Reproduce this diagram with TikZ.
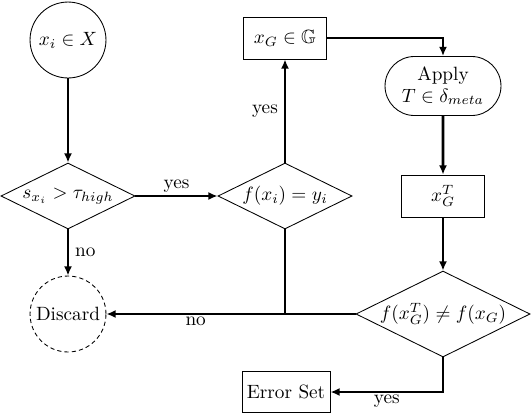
\documentclass[tikz,border=0pt]{standalone}
\usepackage{amssymb}
\usetikzlibrary{shapes.geometric,shapes.misc,arrows.meta}
\begin{document}
\begin{tikzpicture}[x=0.52pt,y=-0.52pt,
  base/.style={draw, line width=0.45pt, inner sep=0pt, font=\normalsize},
  term/.style={base, circle, minimum size=39.5pt},
  decision/.style={base, diamond, aspect=2},
  procbox/.style={base, rectangle, minimum width=43.2pt, minimum height=21.8pt},
  roundbox/.style={base, rounded rectangle, minimum width=60.3pt, minimum height=30.7pt},
  flow/.style={line width=1.45pt, -{Latex[length=4.8pt,width=4.2pt]}},
  link/.style={line width=1.2pt},
  lbl/.style={inner sep=1pt, font=\normalsize}]
\useasboundingbox (0,0) rectangle (532,414);
\node[term] (xi) at (68,40) {$x_i \in X$};
\node[decision, minimum width=69.7pt, minimum height=34.3pt] (d1) at (68,196) {$s_{x_i} > \tau_{high}$};
\node[decision, minimum width=69.7pt, minimum height=34.3pt] (d2) at (285,196) {$f(x_i) = y_i$};
\node[procbox] (xg) at (285,38) {$x_G \in \mathbb{G}$};
\node[roundbox, align=center] (apply) at (443,86) {Apply\\[-1pt]$T \in \delta_{meta}$};
\node[procbox] (xgt) at (443,196) {$x_G^T$};
\node[decision, minimum width=90.5pt, minimum height=44.7pt] (d3) at (443,314) {$f(x_G^T) \neq f(x_G)$};
\node[term, dash pattern=on 2.2pt off 1.6pt] (discard) at (68,314) {Discard};
\node[procbox, minimum width=45.8pt, minimum height=21.3pt] (err) at (286,392) {Error Set};
\coordinate (junc) at (285,314);
\coordinate (c1) at (443,38);
\coordinate (c2) at (443,392);

\draw[flow] (xi) -- (d1);
\draw[flow] (d1) -- node[lbl, above] {yes} (d2);
\draw[flow] (d1) -- node[lbl, right, xshift=2pt] {no} (discard);
\draw[flow] (d2) -- node[lbl, left, xshift=-2pt] {yes} (xg);
\draw[flow] (xg.east) -- (c1) -- (apply.north);
\draw[flow] (apply) -- (xgt);
\draw[flow] (xgt) -- (d3);
\draw[link] (d2.south) -- (junc);
\draw[flow] (d3.west) -- (junc) -- node[lbl, below, pos=0.5] {no} (discard.east);
\draw[flow] (d3.south) -- (c2) -- node[lbl, below, pos=0.5] {yes} (err.east);
\end{tikzpicture}
\end{document}
